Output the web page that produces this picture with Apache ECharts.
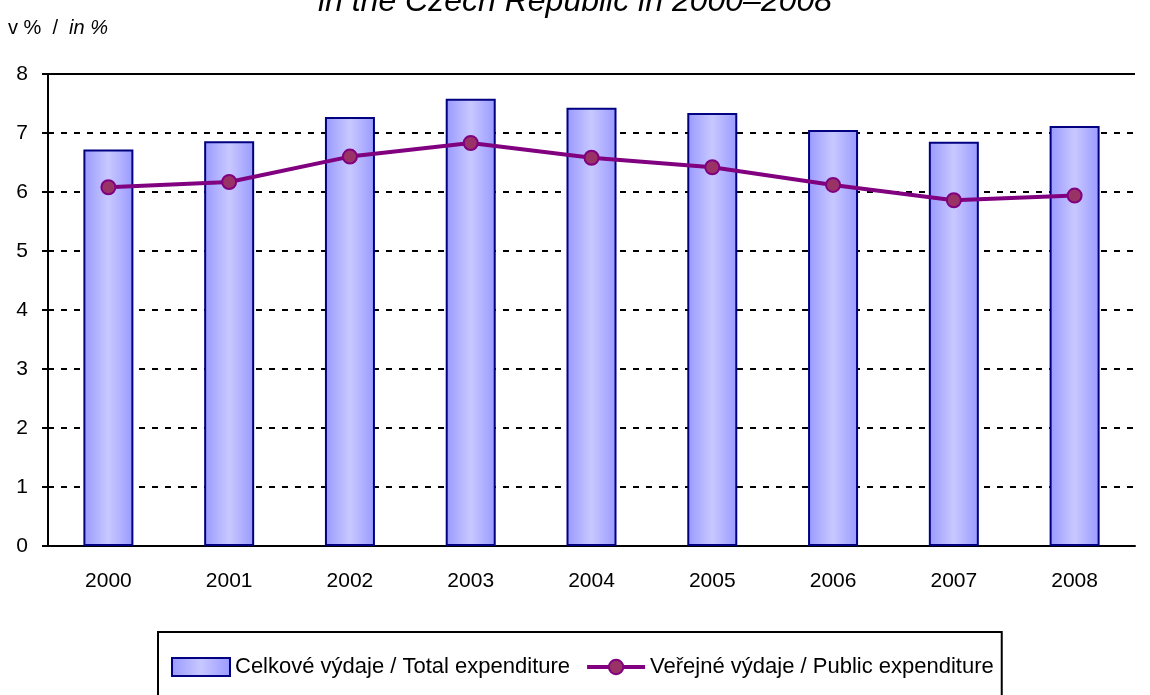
<!DOCTYPE html>
<html>
<head>
<meta charset="utf-8">
<script src="https://cdn.jsdelivr.net/npm/echarts@6/dist/echarts.min.js"></script>
<style>
  html, body { margin: 0; padding: 0; background: #fff; }
  #main { width: 1150px; height: 695px; }
</style>
</head>
<body>
<div id="main"></div>
<script>
var years = ['2000', '2001', '2002', '2003', '2004', '2005', '2006', '2007', '2008'];
var totalExp = [6.72, 6.86, 7.27, 7.58, 7.43, 7.34, 7.05, 6.85, 7.12];
var publicExp = [6.08, 6.17, 6.60, 6.83, 6.58, 6.42, 6.12, 5.86, 5.94];
var nameTotal = 'Celkové výdaje / Total expenditure';
var namePublic = 'Veřejné výdaje / Public expenditure';

var myChart = echarts.init(document.getElementById('main'));
var font = '"Liberation Sans", Arial, sans-serif';

// horizontal gradient like the excel bars
var barFill = new echarts.graphic.LinearGradient(0, 0, 1, 0, [
  { offset: 0, color: '#9999ff' },
  { offset: 0.5, color: '#c8c8ff' },
  { offset: 1, color: '#9999ff' }
]);

var option = {
  animation: false,
  textStyle: { fontFamily: font },
  graphic: [
    {
      type: 'text',
      left: 'center',
      top: -14,
      style: {
        text: 'in the Czech Republic in 2000–2008',
        font: 'italic 32px ' + font,
        fill: '#000'
      }
    },
    {
      type: 'text',
      left: 8,
      top: 18,
      style: {
        text: 'v %  /  {i|in %}',
        font: '20px ' + font,
        fill: '#000',
        rich: { i: { fontStyle: 'italic', fontSize: 20, fontFamily: font } }
      }
    }
  ],
  grid: { left: 48, right: 15, top: 74, bottom: 149 },
  legend: {
    left: 158,
    top: 632,
    padding: [24, 8, 40, 13],
    borderColor: '#000',
    borderWidth: 2,
    itemGap: 15,
    itemWidth: 58,
    itemHeight: 18,
    textStyle: { fontSize: 22, color: '#000', fontFamily: font },
    data: [
      { name: nameTotal, icon: 'rect' },
      { name: namePublic, lineStyle: { width: 4 } }
    ]
  },
  xAxis: {
    type: 'category',
    data: years,
    axisLine: { lineStyle: { color: '#000', width: 2 } },
    axisTick: { length: 8, lineStyle: { color: '#000', width: 2 } },
    axisLabel: { fontSize: 21, color: '#000', margin: 25 }
  },
  yAxis: {
    type: 'value',
    min: 0,
    max: 8,
    interval: 1,
    axisLine: { show: true, lineStyle: { color: '#000', width: 2 } },
    axisTick: { show: true, length: 6, lineStyle: { color: '#000', width: 2 } },
    axisLabel: { fontSize: 21, color: '#000', margin: 20 },
    splitLine: { lineStyle: { color: '#000', width: 2, type: [6, 7] } }
  },
  series: [
    {
      name: nameTotal,
      type: 'bar',
      data: totalExp,
      barWidth: 50,
      itemStyle: { color: barFill, borderColor: '#000080', borderWidth: 2 }
    },
    {
      name: namePublic,
      type: 'line',
      data: publicExp,
      symbol: 'circle',
      symbolSize: 14,
      lineStyle: { color: '#800080', width: 4 },
      itemStyle: { color: '#993366', borderColor: '#800080', borderWidth: 2 }
    },
    {
      type: 'line',
      silent: true,
      data: [],
      markLine: {
        silent: true,
        symbol: 'none',
        label: { show: false },
        lineStyle: { color: '#000', width: 2, type: 'solid' },
        data: [{ yAxis: 8 }]
      }
    }
  ]
};
myChart.setOption(option);
</script>
</body>
</html>
